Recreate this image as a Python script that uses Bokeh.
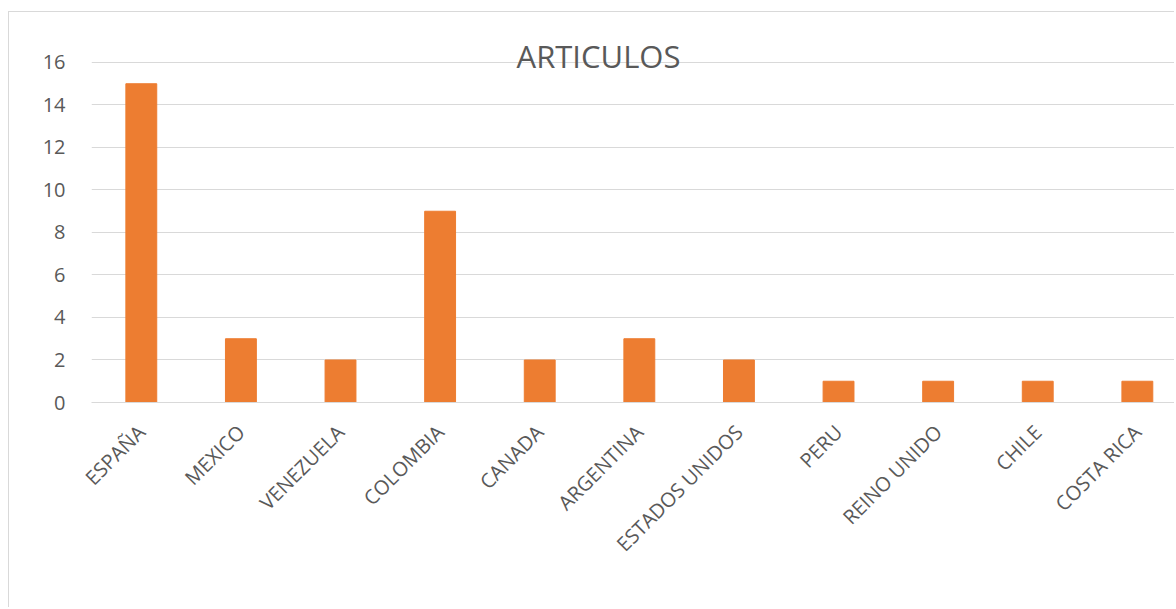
import math
from bokeh.plotting import figure
from bokeh.models import Range1d, FixedTicker, Label, ColumnDataSource
from bokeh.embed import file_html
from bokeh.resources import INLINE

countries = ["ESPAÑA", "MEXICO", "VENEZUELA", "COLOMBIA", "CANADA", "ARGENTINA",
             "ESTADOS UNIDOS", "PERU", "REINO UNIDO", "CHILE", "COSTA RICA"]
articulos = [15, 3, 2, 9, 2, 3, 2, 1, 1, 1, 1]
y_ticks = [0, 2, 4, 6, 8, 10, 12, 14, 16]
title_text = "ARTICULOS"

FONT = "Open Sans"
TXT = "#595959"
GRID = "#D9D9D9"
ORANGE = "#ED7D31"

xs = list(range(len(countries)))
src = ColumnDataSource(dict(x=xs, top=articulos))

p = figure(width=1166, height=596, output_backend="svg", toolbar_location=None,
           x_range=Range1d(-0.5, 10.383), y_range=Range1d(0, 17.976),
           min_border_left=82, min_border_right=0, min_border_top=8, min_border_bottom=206)
p.styles = {"border-left": "1px solid #D9D9D9", "border-top": "1px solid #D9D9D9",
            "margin-top": "11px", "margin-left": "8px"}
p.outline_line_color = None

p.vbar(x="x", top="top", width=0.31, bottom=0, source=src,
       fill_color=ORANGE, line_color=ORANGE, line_width=1)

p.xgrid.grid_line_color = None
p.ygrid.grid_line_color = GRID
p.ygrid.grid_line_width = 1
p.ygrid.ticker = FixedTicker(ticks=y_ticks)

p.yaxis.ticker = FixedTicker(ticks=y_ticks)
p.yaxis.axis_line_color = None
p.yaxis.major_tick_line_color = None
p.yaxis.minor_tick_line_color = None
p.yaxis.major_label_text_font = FONT
p.yaxis.major_label_text_font_size = "20px"
p.yaxis.major_label_text_color = TXT
p.yaxis.major_label_standoff = 20

p.xaxis.ticker = FixedTicker(ticks=xs)
p.xaxis.major_label_overrides = {i: c for i, c in enumerate(countries)}
p.xaxis.axis_line_color = GRID
p.xaxis.major_tick_line_color = None
p.xaxis.minor_tick_line_color = None
p.xaxis.major_label_text_font = FONT
p.xaxis.major_label_text_font_size = "20px"
p.xaxis.major_label_text_color = TXT
p.xaxis.major_label_orientation = math.pi / 4
p.xaxis.major_label_standoff = 20

p.add_layout(Label(x=4.59, y=16.3, text=title_text, text_font=FONT,
                   text_font_size="31px", text_color=TXT, text_align="center",
                   text_baseline="alphabetic"))

open("out.html", "w").write(file_html(p, INLINE))
